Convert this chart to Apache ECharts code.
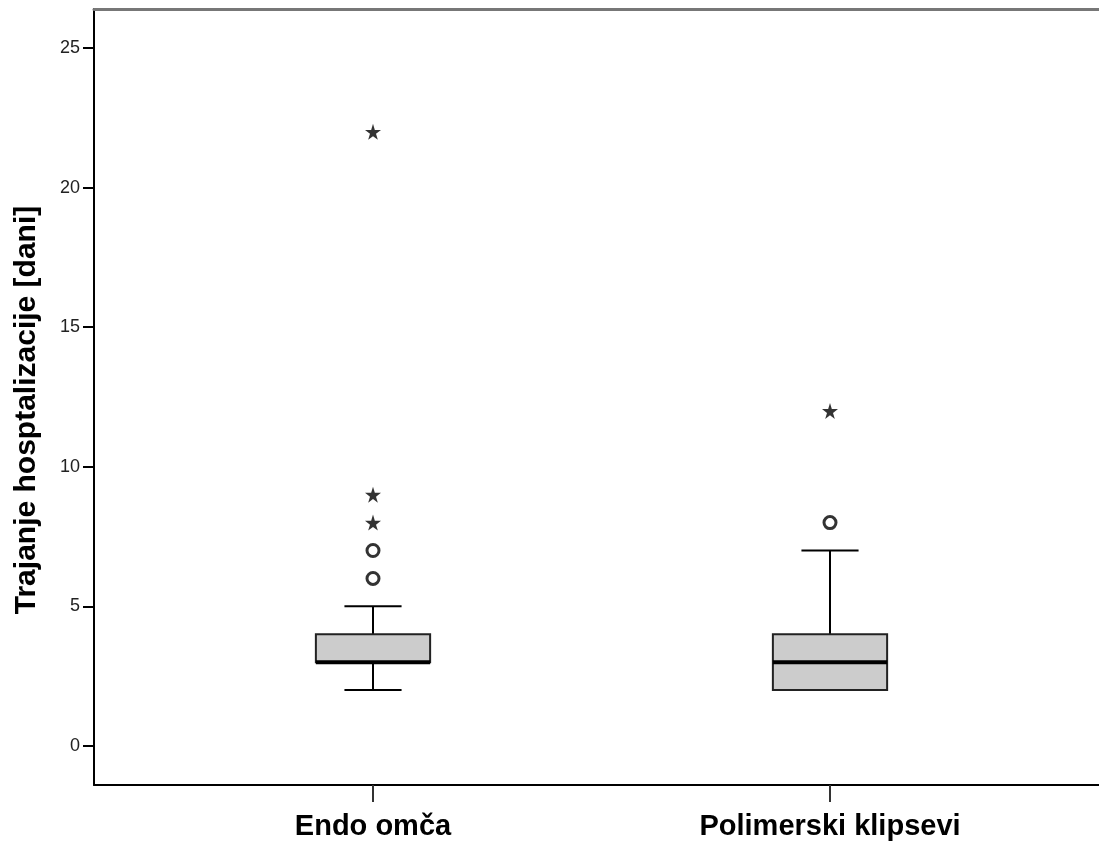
<!DOCTYPE html>
<html>
<head>
<meta charset="utf-8">
<script src="https://cdn.jsdelivr.net/npm/echarts@6/dist/echarts.min.js"></script>
<style>html,body{margin:0;padding:0;background:#fff}#c{width:1099px;height:841px}</style>
</head>
<body>
<div id="c"></div>
<script>
const categories = ['Endo omča', 'Polimerski klipsevi'];
// [min whisker, Q1, median, Q3, max whisker]
const boxStats = [
  [2, 3, 3, 4, 5],
  [2, 2, 3, 4, 7]
];
// mild outliers (circles): [categoryIndex, value]
const circleOutliers = [[0, 6], [0, 7], [1, 8]];
// extreme outliers (stars): [categoryIndex, value]
const starOutliers = [[0, 8], [0, 9], [0, 22], [1, 12]];
const yTicks = [0, 5, 10, 15, 20, 25];
const yTitle = 'Trajanje hosptalizacije [dani]';

const yMin = -1.4, yMax = 26.4;
const starPath = 'path://M50,0 L61,35 L98,35 L68,57 L79,91 L50,70 L21,91 L32,57 L2,35 L39,35 Z';
const font = '"Liberation Sans", Arial, sans-serif';

const boxData = boxStats.map((s, i) => [i].concat(s));

const chart = echarts.init(document.getElementById('c'));
chart.setOption({
  animation: false,
  backgroundColor: '#fff',
  graphic: [{
    type: 'text', x: 27, y: 410, rotation: Math.PI / 2,
    style: { text: yTitle, fill: '#000', font: 'bold 30px ' + font, textAlign: 'center', textVerticalAlign: 'middle' }
  }],
  grid: [
    { left: 94, right: 0, top: 9, bottom: 56 },
    { left: 144.5, right: 40.5, top: 9, bottom: 56 }
  ],
  xAxis: [
    { type: 'category', gridIndex: 0, data: ['a'], position: 'bottom',
      axisLine: { show: true, onZero: false, lineStyle: { color: '#000', width: 2 } },
      axisTick: { show: false }, axisLabel: { show: false } },
    { type: 'category', gridIndex: 0, data: ['a'], position: 'top',
      axisLine: { show: true, onZero: false, lineStyle: { color: '#777', width: 3 } },
      axisTick: { show: false }, axisLabel: { show: false } },
    { type: 'category', gridIndex: 1, data: categories,
      axisLine: { show: false, onZero: false },
      axisTick: { show: true, alignWithLabel: true, length: 17, lineStyle: { color: '#333', width: 2 } },
      axisLabel: { show: true, margin: 27, color: '#000', fontSize: 29, fontWeight: 'bold', fontFamily: font } }
  ],
  yAxis: [
    { type: 'value', gridIndex: 0, min: yMin, max: yMax,
      axisLine: { show: true, onZero: false, lineStyle: { color: '#000', width: 2 } },
      axisTick: { show: true, length: 11, customValues: yTicks, lineStyle: { color: '#000', width: 2 } },
      axisLabel: { show: true, margin: 14, customValues: yTicks, color: '#222', fontSize: 18, fontFamily: font },
      splitLine: { show: false } },
    { type: 'value', gridIndex: 1, min: yMin, max: yMax, show: false, splitLine: { show: false } }
  ],
  series: [
    {
      type: 'custom', xAxisIndex: 2, yAxisIndex: 1, data: boxData,
      encode: { x: 0, y: [1, 2, 3, 4, 5] },
      renderItem: function (params, api) {
        const idx = api.value(0);
        const band = api.size([1, 0])[0];
        const bw = band * 0.25;
        const cx = api.coord([idx, 0])[0];
        const yLo = api.coord([idx, api.value(1)])[1];
        const yQ1 = api.coord([idx, api.value(2)])[1];
        const yMed = api.coord([idx, api.value(3)])[1];
        const yQ3 = api.coord([idx, api.value(4)])[1];
        const yHi = api.coord([idx, api.value(5)])[1];
        const ls = { stroke: '#000', lineWidth: 2 };
        return {
          type: 'group',
          children: [
            { type: 'line', shape: { x1: cx, y1: yQ3, x2: cx, y2: yHi }, style: ls },
            { type: 'line', shape: { x1: cx, y1: yQ1, x2: cx, y2: yLo }, style: ls },
            { type: 'line', shape: { x1: cx - bw / 4, y1: yHi, x2: cx + bw / 4, y2: yHi }, style: ls },
            { type: 'line', shape: { x1: cx - bw / 4, y1: yLo, x2: cx + bw / 4, y2: yLo }, style: ls },
            { type: 'rect', shape: { x: cx - bw / 2, y: yQ3, width: bw, height: yQ1 - yQ3 },
              style: { fill: '#cccccc', stroke: '#222', lineWidth: 2 } },
            { type: 'line', shape: { x1: cx - bw / 2, y1: yMed, x2: cx + bw / 2, y2: yMed },
              style: { stroke: '#000', lineWidth: 4 } }
          ]
        };
      }
    },
    {
      type: 'scatter', xAxisIndex: 2, yAxisIndex: 1, data: circleOutliers,
      symbol: 'circle', symbolSize: 12,
      itemStyle: { color: '#fff', borderColor: '#000', borderWidth: 3 }
    },
    {
      type: 'scatter', xAxisIndex: 2, yAxisIndex: 1, data: starOutliers,
      symbol: starPath, symbolSize: 16,
      itemStyle: { color: '#000' }
    }
  ]
});
</script>
</body>
</html>
